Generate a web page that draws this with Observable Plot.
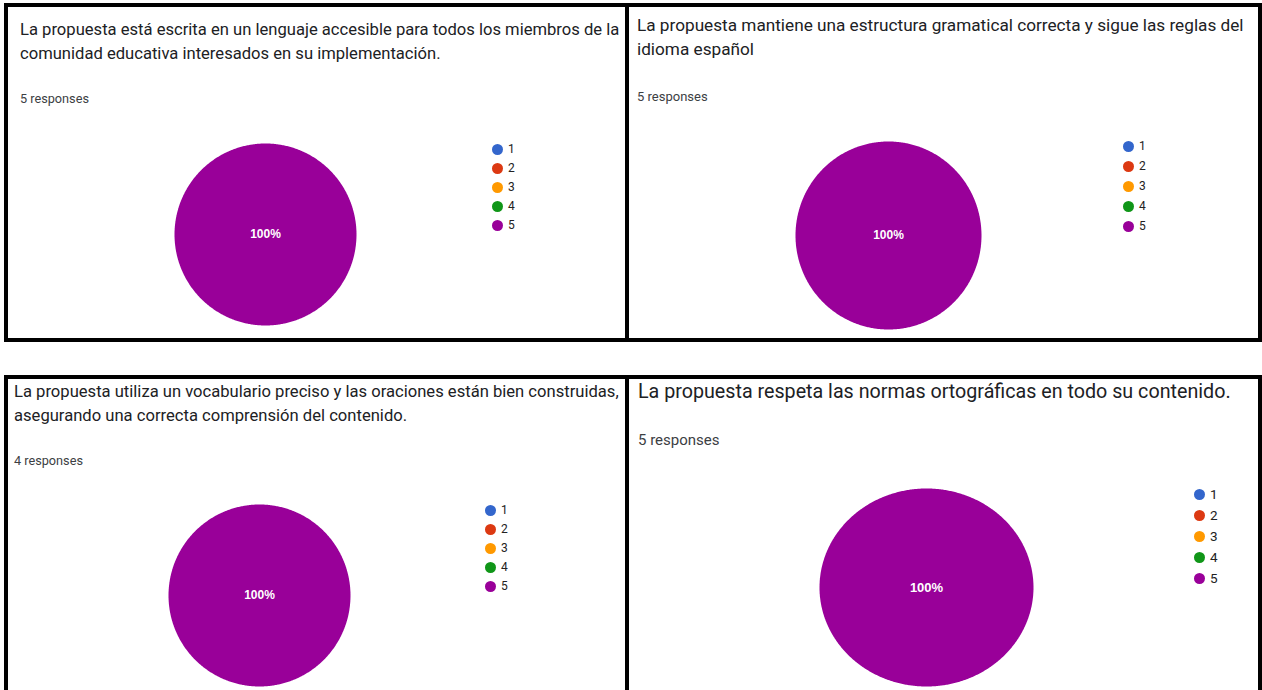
<!DOCTYPE html>
<html>
<head>
<meta charset="utf-8">
<script src="https://cdn.jsdelivr.net/npm/d3@7"></script>
<script src="https://cdn.jsdelivr.net/npm/@observablehq/plot@0.6"></script>
<style>
  html, body { margin: 0; padding: 0; background: #fff; }
  #root { position: relative; width: 1262px; height: 690px; overflow: hidden; background: #fff; font-family: Roboto, "Noto Sans", Arial, sans-serif; }
  .box { position: absolute; border: 4px solid #000; box-sizing: border-box; }
  .title { position: absolute; color: #202124; white-space: nowrap; }
  .resp { position: absolute; color: #3c4043; font-size: 12px; white-space: nowrap; }
  .abs { position: absolute; }
  .abs svg { display: block; overflow: visible; }
</style>
</head>
<body>
<div id="root"></div>
<script>
// ---- data ----
const categories = ["1", "2", "3", "4", "5"];
const colors = ["#3366cc", "#dc3912", "#ff9900", "#109618", "#990099"];

const titles1 = ["La propuesta está escrita en un lenguaje accesible para todos los miembros de la", "comunidad educativa interesados en su implementación."];
const titles2 = ["La propuesta mantiene una estructura gramatical correcta y sigue las reglas del", "idioma español"];
const titles3 = ["La propuesta utiliza un vocabulario preciso y las oraciones están bien construidas,", "asegurando una correcta comprensión del contenido."];
const titles4 = ["La propuesta respeta las normas ortográficas en todo su contenido."];

const responses = [5, 5, 4, 5];
const counts1 = [0, 0, 0, 0, 5];
const counts2 = [0, 0, 0, 0, 5];
const counts3 = [0, 0, 0, 0, 4];
const counts4 = [0, 0, 0, 0, 5];

// ---- layout (pixels) ----
const panels = [
  {titles: titles1, counts: counts1, resp: responses[0],
   box: [4, 3, 625, 339], titleXY: [20, 18], titleSize: 16.6, lh: 24, respXY: [20, 91], respSize: 12.7,
   pie: [265, 234, 91, 91], labelSize: 12,
   legend: [497, 148, 226], dotR: 5.5, legendSize: 12},
  {titles: titles2, counts: counts2, resp: responses[1],
   box: [625, 3, 637, 339], titleXY: [637, 13], titleSize: 17.2, lh: 24, respXY: [637, 89], respSize: 13,
   pie: [888, 235, 93, 94], labelSize: 12,
   legend: [1128, 146, 226], dotR: 5.5, legendSize: 12},
  {titles: titles3, counts: counts3, resp: responses[2],
   box: [4, 375, 625, 330], titleXY: [14, 380], titleSize: 16.6, lh: 24, respXY: [14, 453], respSize: 12.7,
   pie: [259, 595, 91, 91], labelSize: 12,
   legend: [490, 508, 587], dotR: 5.5, legendSize: 12},
  {titles: titles4, counts: counts4, resp: responses[3],
   box: [625, 375, 637, 330], titleXY: [638, 379], titleSize: 19.7, lh: 26, respXY: [638, 431], respSize: 15,
   pie: [926, 587, 107, 99], labelSize: 13,
   legend: [1199, 494, 578], dotR: 5.5, legendSize: 13.5}
];

const root = document.getElementById("root");
const colorScale = {domain: categories, range: colors};

function place(el, x, y) {
  el.style.left = x + "px";
  el.style.top = y + "px";
  root.appendChild(el);
}

panels.forEach((p) => {
  // border box
  const box = document.createElement("div");
  box.className = "box";
  box.style.width = p.box[2] + "px";
  box.style.height = p.box[3] + "px";
  place(box, p.box[0], p.box[1]);

  // title
  const t = document.createElement("div");
  t.className = "title";
  t.style.fontSize = p.titleSize + "px";
  t.style.lineHeight = p.lh + "px";
  p.titles.forEach((line) => {
    const d = document.createElement("div");
    d.textContent = line;
    t.appendChild(d);
  });
  place(t, p.titleXY[0], p.titleXY[1]);

  // responses
  const r = document.createElement("div");
  r.className = "resp";
  r.style.fontSize = p.respSize + "px";
  r.textContent = p.resp + " responses";
  place(r, p.respXY[0], p.respXY[1]);

  // pie
  const data = categories.map((c, i) => ({cat: c, value: p.counts[i]}));
  const total = d3.sum(data, (d) => d.value);
  const arcs = d3.pie().sort(null).value((d) => d.value)(data).filter((a) => a.value > 0);
  const pts = [];
  const labels = [];
  arcs.forEach((a) => {
    const full = (a.endAngle - a.startAngle) >= 2 * Math.PI - 1e-9;
    const n = Math.max(2, Math.ceil((a.endAngle - a.startAngle) / 0.01));
    if (!full) pts.push({cat: a.data.cat, x: 0, y: 0});
    for (let k = 0; k <= n; k++) {
      const ang = a.startAngle + (a.endAngle - a.startAngle) * k / n;
      pts.push({cat: a.data.cat, x: Math.sin(ang), y: Math.cos(ang)});
    }
    const mid = (a.startAngle + a.endAngle) / 2;
    const rr = full ? 0 : 0.6;
    labels.push({x: rr * Math.sin(mid), y: rr * Math.cos(mid), text: d3.format(".0%")(a.value / total)});
  });
  const [cx, cy, rx, ry] = p.pie;
  const pie = Plot.plot({
    width: 2 * rx, height: 2 * ry, margin: 0,
    x: {domain: [-1, 1], axis: null},
    y: {domain: [-1, 1], axis: null},
    color: colorScale,
    marks: [
      Plot.line(pts, {x: "x", y: "y", z: "cat", fill: "cat", stroke: null, curve: "linear"}),
      Plot.text(labels, {x: "x", y: "y", text: "text", fill: "white", fontWeight: "bold",
        fontSize: p.labelSize, fontFamily: "Arial, 'Liberation Sans', sans-serif"})
    ]
  });
  const pd = document.createElement("div");
  pd.className = "abs";
  pd.appendChild(pie);
  place(pd, cx - rx, cy - ry);

  // legend
  const [lx, ly0, ly1] = p.legend;
  const lh = ly1 - ly0;
  const leg = Plot.plot({
    width: 40, height: lh + 20, margin: 0, marginTop: 10, marginBottom: 10,
    x: {domain: [0, 1], range: [8, 40], axis: null},
    y: {type: "point", domain: categories, axis: null, padding: 0},
    color: colorScale,
    marks: [
      Plot.dot(categories, {x: () => 0, y: (d) => d, fill: (d) => d, r: p.dotR, stroke: null}),
      Plot.text(categories, {x: () => 0, y: (d) => d, text: (d) => d, dx: p.dotR + 5, textAnchor: "start",
        fill: "#222", fontSize: p.legendSize, fontFamily: "Roboto, Arial, sans-serif"})
    ]
  });
  const ld = document.createElement("div");
  ld.className = "abs";
  ld.appendChild(leg);
  place(ld, lx - 8, ly0 - 10);
});
</script>
</body>
</html>
